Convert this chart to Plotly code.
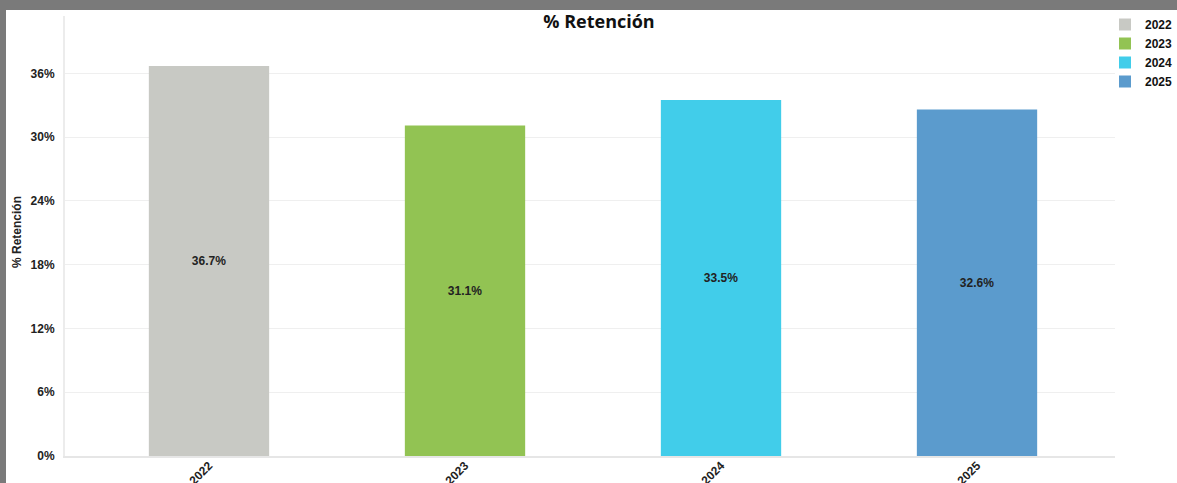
import plotly.graph_objects as go

# DATA ##########################################################################

years = ["2022", "2023", "2024", "2025"]
retention = [36.7, 31.1, 33.5, 32.6]
colors = ["#c8c9c4", "#92c353", "#41cdea", "#5b9bcd"]

# LAYOUT ########################################################################

# the reference is a screenshot with a grey frame on top (10px) and left (6px)
FRAME_T, FRAME_L = 10, 6
W, H = 1177 - FRAME_L, 483 - FRAME_T
m_l, m_r, m_t, m_b = 59, 62, 6, 27
pw = W - m_l - m_r
ph = H - m_t - m_b

bold = dict(family="Liberation Sans, Arial", size=12, color="#222222", weight="bold")

fig = go.Figure()

for yr, val, col in zip(years, retention, colors):
    fig.add_trace(go.Bar(
        x=[yr], y=[val],
        name=yr,
        marker=dict(color=col, line=dict(width=0)),
        width=0.47,
        text=[f"{val:.1f}%"],
        textposition="inside",
        insidetextanchor="middle",
        textangle=0,
        textfont=bold,
        hoverinfo="x+y",
    ))

# y axis title placed by hand
fig.add_annotation(
    text="<b>% Retención</b>",
    xref="paper", yref="paper",
    x=(17 - FRAME_L - m_l) / pw, y=1 - (232 - FRAME_T - m_t) / ph,
    xanchor="center", yanchor="middle",
    textangle=-90, showarrow=False,
    font=dict(family="Liberation Sans, Arial", size=12, color="#222222"),
)

fig.update_layout(
    width=W, height=H,
    margin=dict(l=m_l, r=m_r, t=m_t, b=m_b, autoexpand=False),
    paper_bgcolor="white",
    plot_bgcolor="white",
    title=dict(
        text="<b>% Retención</b>",
        x=(599 - FRAME_L) / W, xanchor="center",
        y=1 - (22 - FRAME_T) / H, yanchor="middle", yref="container",
        font=dict(family="Open Sans", size=18, color="#111111"),
    ),
    showlegend=True,
    legend=dict(
        x=(1105 - FRAME_L - m_l) / pw, xanchor="left",
        y=1 + m_t / ph, yanchor="top",
        font=dict(family="Liberation Sans, Arial", size=12, color="#111111", weight="bold"),
        itemwidth=30,
        tracegroupgap=0,
        bgcolor="rgba(0,0,0,0)",
    ),
    xaxis=dict(
        type="category",
        range=[-0.5625, 3.539],
        automargin=False,
        tickangle=-45,
        tickfont=bold,
        showgrid=False,
        showline=True, linecolor="#e6e6e6", linewidth=2,
        ticks="", ticklabelstandoff=-4,
    ),
    yaxis=dict(
        range=[0, 41.4],
        automargin=False,
        tickvals=[0, 6, 12, 18, 24, 30, 36],
        ticktext=["0%", "6%", "12%", "18%", "24%", "30%", "36%"],
        tickfont=bold,
        showgrid=True, gridcolor="#efefef", gridwidth=1,
        showline=True, linecolor="#ececec", linewidth=2,
        zeroline=False,
        ticks="", ticklabelstandoff=6,
    ),
)

frame_css = (
    "document.body.style.margin='0px';"
    "document.body.style.padding='%dpx 0px 0px %dpx';"
    "document.body.style.background='#7a7a7a';"
    "document.body.style.overflow='hidden';" % (FRAME_T, FRAME_L)
)

fig.write_html("out.html", config={"displayModeBar": False}, post_script=frame_css)
